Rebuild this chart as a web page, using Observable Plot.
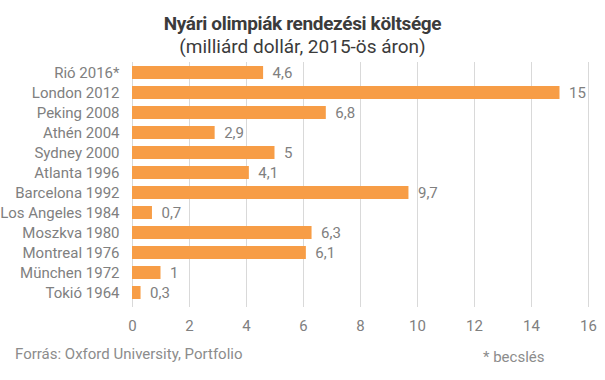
<!DOCTYPE html>
<html><head><meta charset="utf-8">
<script src="https://cdn.jsdelivr.net/npm/d3@7"></script>
<script src="https://cdn.jsdelivr.net/npm/@observablehq/plot@0.6"></script>
<style>
body{margin:0;width:605px;height:380px;position:relative;background:#fff;font-family:Roboto,sans-serif;overflow:hidden}
#title{position:absolute;top:12px;left:0;width:605px;text-align:center;color:#3b3b3b;font-size:19px;font-weight:700;line-height:23px;letter-spacing:-0.35px}
#sub{position:absolute;top:35px;left:0;width:605px;text-align:center;color:#3b3b3b;font-size:19px;font-weight:400;line-height:23px}
#chart{position:absolute;top:58px;left:0}
#src{position:absolute;left:15px;top:345px;font-size:15px;color:#8c8c8c;line-height:18px}
#note{position:absolute;left:483px;top:348px;font-size:15px;color:#8c8c8c;line-height:18px}
</style>
</head><body>
<div id="title">Nyári olimpiák rendezési költsége</div>
<div id="sub">(milliárd dollár, 2015-ös áron)</div>
<div id="chart"></div>
<div id="src">Forrás: Oxford University, Portfolio</div>
<div id="note">* becslés</div>
<script>
const cities = ["Rió 2016*","London 2012","Peking 2008","Athén 2004","Sydney 2000","Atlanta 1996","Barcelona 1992","Los Angeles 1984","Moszkva 1980","Montreal 1976","München 1972","Tokió 1964"];
const costs = [4.6,15,6.8,2.9,5,4.1,9.7,0.7,6.3,6.1,1,0.3];
const xTicks = [0,2,4,6,8,10,12,14,16];

const data = cities.map((c,i)=>({city:c,cost:costs[i]}));
const fmt = v => String(v).replace(".", ",");

const chart = Plot.plot({
  width:605, height:282, marginLeft:132, marginRight:17, marginTop:4, marginBottom:36,
  style:{fontFamily:"Roboto, sans-serif", fontSize:"15px", color:"#808080", background:"transparent", overflow:"visible"},
  x:{domain:[0,16]},
  y:{domain:cities, paddingInner:0.33, paddingOuter:0.165},
  marks:[
    Plot.ruleX(xTicks,{stroke:"#d9d9d9", strokeOpacity:1, insetBottom:-3}),
    Plot.barX(data,{y:"city", x:"cost", fill:"#f79d46"}),
    Plot.text(data,{y:"city", x:"cost", text:d=>fmt(d.cost), dx:9, textAnchor:"start", fill:"#808080", fontSize:15}),
    Plot.axisY({tickSize:0, tickPadding:13, label:null, fontSize:15}),
    Plot.axisX({ticks:xTicks, tickFormat:d=>String(d), tickSize:0, tickPadding:16, label:null, fontSize:15})
  ]
});
document.getElementById("chart").appendChild(chart);
</script>
</body></html>
